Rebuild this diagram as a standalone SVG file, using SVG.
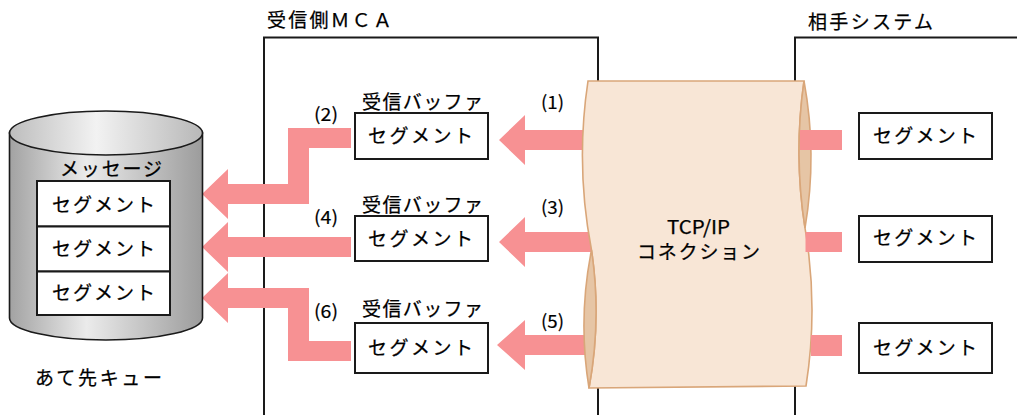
<svg xmlns="http://www.w3.org/2000/svg" width="1017" height="415" viewBox="0 0 1017 415">
<defs>
<linearGradient id="cylBody" x1="0" y1="0" x2="1" y2="0">
<stop offset="0" stop-color="#a2a2a2"/>
<stop offset="0.4" stop-color="#ebebeb"/>
<stop offset="1" stop-color="#9c9c9c"/>
</linearGradient>
<linearGradient id="cylTop" x1="0" y1="0" x2="1" y2="0">
<stop offset="0" stop-color="#bdbdbd"/>
<stop offset="0.45" stop-color="#f2f2f2"/>
<stop offset="1" stop-color="#b8b8b8"/>
</linearGradient>
<style>
.frame{fill:none;stroke:#1a1a1a;stroke-width:2}
.box{fill:#ffffff;stroke:#1a1a1a;stroke-width:2}
.arrow{fill:#f79193;stroke:none}
.t{font-family:"Noto Sans CJK JP","Noto Sans",sans-serif;font-size:19px;font-weight:400;fill:#000000;stroke:#000000;stroke-width:0.25}
.n{font-family:"Noto Sans CJK JP","Noto Sans",sans-serif;font-size:18px;font-weight:400;fill:#000000;stroke:#000000;stroke-width:0.2}
.body{fill:#f8e6d6;stroke:#d9a679;stroke-width:1.6}
.lens{fill:#e6c5a5;stroke:#d9a679;stroke-width:1.6}
</style>
</defs>

<g id="mca">
<path class="frame" d="M264,415 V37.5 H598 V415"/>
<text class="t" x="267" y="26.5" textLength="125" lengthAdjust="spacing">受信側ＭＣＡ</text>
</g>

<g id="remote-system">
<path class="frame" d="M795,415 V37.5 H1017"/>
<text class="t" x="808" y="28.5" textLength="125" lengthAdjust="spacing">相手システム</text>
</g>

<g id="connectors">
<path class="arrow" d="M499,140 L525,115 L525,130 L596,130 L596,150 L525,150 L525,165 Z"/>
<path class="arrow" d="M499,242 L525,217 L525,232 L596,232 L596,252 L525,252 L525,267 Z"/>
<path class="arrow" d="M497,345 L525,320 L525,335 L600,335 L600,355 L525,355 L525,370 Z"/>
<path class="arrow" d="M202,194 L228,169 L228,184 L288,184 L288,128 L351,128 L351,148 L309,148 L309,204 L228,204 L228,219 Z"/>
<path class="arrow" d="M202,247 L228,222 L228,237 L351,237 L351,257 L228,257 L228,272 Z"/>
<path class="arrow" d="M202,298 L228,273 L228,288 L309,288 L309,341 L351,341 L351,361 L288,361 L288,308 L228,308 L228,323 Z"/>
<text class="n" x="541" y="108.5" textLength="23" lengthAdjust="spacingAndGlyphs">(1)</text>
<text class="n" x="541" y="213.5" textLength="23" lengthAdjust="spacingAndGlyphs">(3)</text>
<text class="n" x="541" y="327.5" textLength="23" lengthAdjust="spacingAndGlyphs">(5)</text>
<text class="n" x="314" y="120.5" textLength="24" lengthAdjust="spacingAndGlyphs">(2)</text>
<text class="n" x="314" y="223.5" textLength="24" lengthAdjust="spacingAndGlyphs">(4)</text>
<text class="n" x="314" y="317.5" textLength="24" lengthAdjust="spacingAndGlyphs">(6)</text>
</g>

<g id="tcpip">
<path class="body" d="M588,81 L804,81 Q793.5,154.5 805,228 Q818.5,307 806,386 L589,388 Q601.75,319 591.5,250 Q575.25,165.5 588,81 Z"/>
<path class="lens" d="M804,81 Q817.5,154.5 805,228 Q793.5,154.5 804,81 Z"/>
<path class="lens" d="M591.5,250 Q577.75,319 589,388 Q601.75,319 591.5,250 Z"/>
<text class="t" x="667" y="234" textLength="63" lengthAdjust="spacingAndGlyphs">TCP/IP</text>
<text class="t" x="637" y="259" textLength="123" lengthAdjust="spacing">コネクション</text>
</g>

<g id="remote-shafts">
<rect class="arrow" x="800" y="130" width="42" height="20"/>
<rect class="arrow" x="805.5" y="232" width="36.5" height="20"/>
<rect class="arrow" x="811" y="335" width="31" height="21"/>
</g>

<g id="buffer1">
<text class="t" x="362" y="109" textLength="121" lengthAdjust="spacing">受信バッファ</text>
<rect class="box" x="355" y="113" width="133" height="46"/>
<text class="t" x="368" y="143" textLength="105" lengthAdjust="spacing">セグメント</text>
</g>
<g id="buffer2">
<text class="t" x="362" y="212" textLength="121" lengthAdjust="spacing">受信バッファ</text>
<rect class="box" x="355" y="216" width="133" height="45"/>
<text class="t" x="368" y="245.5" textLength="105" lengthAdjust="spacing">セグメント</text>
</g>
<g id="buffer3">
<text class="t" x="362" y="316" textLength="121" lengthAdjust="spacing">受信バッファ</text>
<rect class="box" x="355" y="323" width="133" height="50"/>
<text class="t" x="368" y="355" textLength="105" lengthAdjust="spacing">セグメント</text>
</g>

<g id="remote-seg1">
<rect class="box" x="859" y="113" width="133" height="46"/>
<text class="t" x="873" y="143" textLength="104" lengthAdjust="spacing">セグメント</text>
</g>
<g id="remote-seg2">
<rect class="box" x="859" y="216" width="133" height="46"/>
<text class="t" x="873" y="244.5" textLength="104" lengthAdjust="spacing">セグメント</text>
</g>
<g id="remote-seg3">
<rect class="box" x="859" y="323" width="133" height="50"/>
<text class="t" x="873" y="355" textLength="104" lengthAdjust="spacing">セグメント</text>
</g>

<g id="queue">
<path d="M9.5,133 V318 A96.5,22 0 0 0 202.5,318 V133 Z" fill="url(#cylBody)" stroke="#1a1a1a" stroke-width="1.6"/>
<ellipse cx="106" cy="133" rx="96.5" ry="22" fill="url(#cylTop)" stroke="#1a1a1a" stroke-width="1.6"/>
<text class="t" x="60" y="176" textLength="102" lengthAdjust="spacing">メッセージ</text>
<rect class="box" x="37" y="181" width="133" height="45.5"/>
<rect class="box" x="37" y="226.5" width="133" height="45"/>
<rect class="box" x="37" y="271.5" width="133" height="43.5"/>
<text class="t" x="52" y="212" textLength="103" lengthAdjust="spacing">セグメント</text>
<text class="t" x="52" y="256" textLength="103" lengthAdjust="spacing">セグメント</text>
<text class="t" x="52" y="300" textLength="103" lengthAdjust="spacing">セグメント</text>
<text class="t" x="35" y="385" textLength="127" lengthAdjust="spacing">あて先キュー</text>
</g>
</svg>
